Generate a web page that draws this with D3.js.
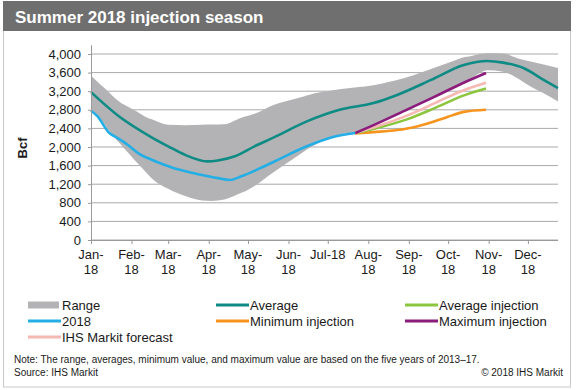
<!DOCTYPE html>
<html lang="en">
<head>
<meta charset="UTF-8">
<title>Summer 2018 injection season</title>
<script src="https://d3js.org/d3.v7.min.js"></script>
<style>
  body { margin: 0; background: #fff; }
  svg text { font-family: Arial, "Liberation Sans", sans-serif; fill: #1a1a1a; }
  .grid line { stroke: #a9a9a9; stroke-width: 1; }
  .axis path, .axis line { stroke: #9a9a9a; }
  .axis text { font-size: 13px; }
  .legend text { font-size: 13px; }
</style>
</head>
<body>
<div id="chart"></div>
<script>
// range of the five years 2013-17 (Bcf)
const rangeUpper = [
  ["2018-01-01", 3530], ["2018-01-10", 3300], ["2018-01-21", 3010], ["2018-02-04", 2780],
  ["2018-02-14", 2620], ["2018-03-01", 2480], ["2018-03-14", 2470], ["2018-04-13", 2490],
  ["2018-04-25", 2620], ["2018-05-06", 2715], ["2018-05-20", 2900], ["2018-06-09", 3060],
  ["2018-06-15", 3110], ["2018-07-10", 3240], ["2018-08-05", 3330], ["2018-08-23", 3440],
  ["2018-09-02", 3520], ["2018-09-18", 3680], ["2018-10-13", 3930], ["2018-10-31", 4015],
  ["2018-11-12", 4010], ["2018-11-23", 3910], ["2018-12-03", 3840], ["2018-12-24", 3700]
];
const rangeLower = [
  ["2018-01-01", 2780], ["2018-01-08", 2620], ["2018-01-17", 2265], ["2018-02-03", 1730],
  ["2018-02-16", 1340], ["2018-03-01", 1100], ["2018-03-14", 945], ["2018-03-27", 850],
  ["2018-04-03", 840], ["2018-04-13", 870], ["2018-04-29", 1050], ["2018-05-06", 1160],
  ["2018-05-20", 1445], ["2018-06-15", 1945], ["2018-07-10", 2265], ["2018-07-23", 2335],
  ["2018-08-05", 2480], ["2018-08-20", 2640], ["2018-09-05", 2850], ["2018-09-20", 3070],
  ["2018-10-05", 3290], ["2018-10-18", 3470], ["2018-10-31", 3650], ["2018-11-12", 3620],
  ["2018-11-23", 3480], ["2018-12-03", 3300], ["2018-12-13", 3157], ["2018-12-24", 2980]
];
const average = [
  ["2018-01-01", 3180], ["2018-01-21", 2690], ["2018-02-16", 2215], ["2018-03-01", 2015],
  ["2018-03-14", 1830], ["2018-03-31", 1690], ["2018-04-08", 1710], ["2018-04-21", 1800],
  ["2018-05-06", 2015], ["2018-05-20", 2195], ["2018-06-15", 2550], ["2018-07-10", 2800],
  ["2018-08-05", 2945], ["2018-08-23", 3120], ["2018-09-18", 3443], ["2018-10-13", 3765],
  ["2018-10-31", 3850], ["2018-11-12", 3815], ["2018-11-28", 3693], ["2018-12-13", 3443],
  ["2018-12-24", 3265]
];
const actual2018 = [
  ["2018-01-01", 2780], ["2018-01-06", 2660], ["2018-01-15", 2300], ["2018-01-20", 2215],
  ["2018-01-29", 2050], ["2018-02-06", 1870], ["2018-02-16", 1730], ["2018-02-26", 1620],
  ["2018-03-09", 1515], ["2018-03-19", 1445], ["2018-03-29", 1385], ["2018-04-08", 1330],
  ["2018-04-17", 1290], ["2018-04-26", 1370], ["2018-05-10", 1540], ["2018-05-22", 1700],
  ["2018-06-15", 2015], ["2018-07-05", 2215], ["2018-07-22", 2300]
];
const minInjection = [
  ["2018-07-22", 2290], ["2018-08-05", 2320], ["2018-08-23", 2365], ["2018-09-04", 2420],
  ["2018-09-17", 2520], ["2018-09-30", 2640], ["2018-10-13", 2755], ["2018-10-30", 2800]
];
const avgInjection = [
  ["2018-07-22", 2300], ["2018-08-05", 2390], ["2018-08-31", 2600], ["2018-09-16", 2780],
  ["2018-09-25", 2890], ["2018-10-12", 3100], ["2018-10-30", 3260]
];
const forecast = [
  ["2018-07-22", 2300], ["2018-08-05", 2420], ["2018-08-31", 2680], ["2018-09-16", 2880],
  ["2018-09-25", 3000], ["2018-10-12", 3210], ["2018-10-30", 3380]
];
const maxInjection = [
  ["2018-07-22", 2300], ["2018-08-05", 2470], ["2018-08-31", 2810], ["2018-09-16", 3020],
  ["2018-09-25", 3140], ["2018-10-12", 3370], ["2018-10-30", 3590]
];

const yTicks = [0, 400, 800, 1200, 1600, 2000, 2400, 2800, 3200, 3600, 4000];
const monthLabels = ["Jan-", "Feb-", "Mar-", "Apr-", "May-", "Jun-", "Jul-18", "Aug-", "Sep-", "Oct-", "Nov-", "Dec-"];
const yearLabel = "18";

const colors = {
  range: "#b3b3b5",
  average: "#0e8b85",
  y2018: "#23afe5",
  avgInj: "#8cc63f",
  minInj: "#f7941d",
  maxInj: "#8b1c7c",
  forecast: "#f5b8b2"
};

const W = 576, H = 390;
const parse = d3.timeParse("%Y-%m-%d");

const svg = d3.select("#chart").append("svg")
  .attr("width", W).attr("height", H);

// outer frame and title bar
svg.append("rect").attr("x", 3.5).attr("y", 1.5).attr("width", 567).attr("height", 385.5)
  .attr("fill", "#fff").attr("stroke", "#c9c9c9");
svg.append("rect").attr("x", 3).attr("y", 1).attr("width", 568).attr("height", 30)
  .attr("fill", "#6f6f6f");
svg.append("text").attr("x", 15).attr("y", 23)
  .style("font-size", "17px").style("font-weight", "bold").style("fill", "#fff")
  .text("Summer 2018 injection season");

const x = d3.scaleTime()
  .domain([parse("2018-01-01"), parse("2018-12-24")])
  .range([91, 558]);
const y = d3.scaleLinear().domain([0, 4200]).range([240, 44.7]);

// gridlines
svg.append("g").attr("class", "grid")
  .selectAll("line").data(yTicks).join("line")
  .attr("x1", 91).attr("x2", 558)
  .attr("y1", d => y(d)).attr("y2", d => y(d));

// range band: both edges on the union of their dates
const upperFn = d3.scaleTime()
  .domain(rangeUpper.map(d => parse(d[0])))
  .range(rangeUpper.map(d => d[1]));
const lowerFn = d3.scaleTime()
  .domain(rangeLower.map(d => parse(d[0])))
  .range(rangeLower.map(d => d[1]));
const bandDates = Array.from(new Set(rangeUpper.map(d => d[0]).concat(rangeLower.map(d => d[0])))).sort();
const bandData = bandDates.map(s => ({ date: parse(s), hi: upperFn(parse(s)), lo: lowerFn(parse(s)) }));

const area = d3.area()
  .x(d => x(d.date))
  .y0(d => y(d.lo))
  .y1(d => y(d.hi))
  .curve(d3.curveMonotoneX);
svg.append("path").datum(bandData)
  .attr("d", area)
  .attr("fill", colors.range);

// lines
const line = d3.line()
  .x(d => x(parse(d[0])))
  .y(d => y(d[1]))
  .curve(d3.curveMonotoneX);

const series = [
  [average, colors.average],
  [actual2018, colors.y2018],
  [minInjection, colors.minInj],
  [avgInjection, colors.avgInj],
  [forecast, colors.forecast],
  [maxInjection, colors.maxInj]
];
series.forEach(([data, c]) => {
  svg.append("path").datum(data)
    .attr("d", line)
    .attr("fill", "none")
    .attr("stroke", c)
    .attr("stroke-width", 2.6)
    .attr("stroke-linejoin", "round");
});

// y axis
const yAxis = svg.append("g").attr("class", "axis")
  .attr("transform", "translate(91,0)")
  .call(d3.axisLeft(y).tickValues(yTicks).tickSize(3).tickSizeOuter(0).tickPadding(7)
    .tickFormat(d3.format(",")));
yAxis.selectAll("text").style("fill", "#1a1a1a");

svg.append("text")
  .attr("transform", "translate(27,148) rotate(-90)")
  .attr("text-anchor", "middle")
  .style("font-size", "13px").style("font-weight", "bold")
  .text("Bcf");

// x axis
const months = d3.timeMonths(parse("2018-01-01"), parse("2018-12-24"));
const xAxis = svg.append("g").attr("class", "axis")
  .attr("transform", "translate(0,240)")
  .call(d3.axisBottom(x).tickValues(months).tickSize(4).tickSizeOuter(0).tickFormat(""));
xAxis.select(".domain").attr("d", "M91,0.5H558");

const xl = svg.append("g").attr("class", "axis");
months.forEach((m, i) => {
  const t = xl.append("text")
    .attr("x", x(m)).attr("y", 259)
    .attr("text-anchor", "middle");
  t.append("tspan").attr("x", x(m)).text(monthLabels[i]);
  if (!monthLabels[i].endsWith("18")) {
    t.append("tspan").attr("x", x(m)).attr("dy", 15).text(yearLabel);
  }
});

// legend
const legendItems = [
  { label: "Range", color: colors.range, type: "rect", col: 0, row: 0 },
  { label: "2018", color: colors.y2018, type: "line", col: 0, row: 1 },
  { label: "IHS Markit forecast", color: colors.forecast, type: "line", col: 0, row: 2 },
  { label: "Average", color: colors.average, type: "line", col: 1, row: 0 },
  { label: "Minimum injection", color: colors.minInj, type: "line", col: 1, row: 1 },
  { label: "Average injection", color: colors.avgInj, type: "line", col: 2, row: 0 },
  { label: "Maximum injection", color: colors.maxInj, type: "line", col: 2, row: 1 }
];
const colX = [28, 216, 405];
const legend = svg.append("g").attr("class", "legend");
legendItems.forEach(it => {
  const lx = colX[it.col], ly = 305 + it.row * 16;
  if (it.type === "rect") {
    legend.append("rect").attr("x", lx).attr("y", ly - 3.5).attr("width", 31).attr("height", 7)
      .attr("fill", it.color);
  } else {
    legend.append("line").attr("x1", lx).attr("x2", lx + 33).attr("y1", ly).attr("y2", ly)
      .attr("stroke", it.color).attr("stroke-width", 3);
  }
  legend.append("text").attr("x", lx + 34).attr("y", ly + 4.5).text(it.label);
});

// notes
svg.append("text").attr("x", 14).attr("y", 363)
  .style("font-size", "10px")
  .text("Note: The range, averages, minimum value, and maximum value are based on the five years of 2013\u201317.");
svg.append("text").attr("x", 14).attr("y", 376)
  .style("font-size", "10px")
  .text("Source: IHS Markit");
svg.append("text").attr("x", 563).attr("y", 376)
  .attr("text-anchor", "end")
  .style("font-size", "10px")
  .text("\u00a9 2018 IHS Markit");
</script>
</body>
</html>
